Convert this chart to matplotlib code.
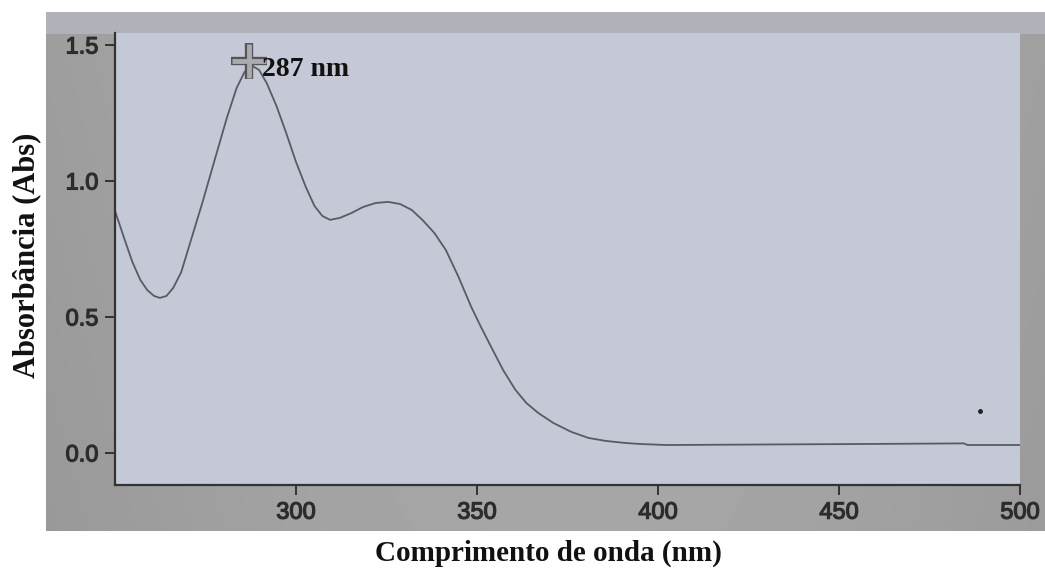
import matplotlib
matplotlib.use("Agg")
import matplotlib.pyplot as plt
from matplotlib.patches import Rectangle
import matplotlib.patheffects as pe
import numpy as np

# Spectrum
wavelength_nm = [250.0, 252.7, 254.8, 257.0, 258.9, 260.8, 262.4, 264.2, 266.1, 268.3,
                 271.0, 274.2, 277.7, 280.9, 283.6, 285.8, 287.6, 289.8, 291.9, 294.6,
                 297.3, 300.0, 302.7, 305.1, 307.3, 309.4, 312.1, 315.3, 318.5, 322.0,
                 325.5, 328.8, 332.0, 334.9, 338.2, 341.4, 344.9, 348.4, 351.1, 353.9,
                 357.2, 360.6, 363.6, 366.9, 371.1, 376.1, 380.8, 385.6, 390.6, 394.7,
                 402.3, 430.0, 460.0, 484.5, 485.5, 500.0]
absorbance = [0.890, 0.783, 0.702, 0.636, 0.599, 0.577, 0.570, 0.577, 0.607, 0.665,
              0.783, 0.923, 1.085, 1.232, 1.342, 1.401, 1.426, 1.408, 1.360, 1.276,
              1.176, 1.070, 0.978, 0.908, 0.871, 0.857, 0.864, 0.882, 0.904, 0.919,
              0.923, 0.915, 0.893, 0.857, 0.809, 0.746, 0.647, 0.537, 0.463, 0.390,
              0.305, 0.232, 0.184, 0.147, 0.110, 0.077, 0.055, 0.044, 0.037, 0.033,
              0.029, 0.031, 0.033, 0.035, 0.029, 0.029]

peak_nm = 287
peak_abs = 1.44
peak_label = "287 nm"

dust_nm = [489]
dust_abs = [0.154]

x_ticks = [300, 350, 400, 450, 500]
y_ticks = [0.0, 0.5, 1.0, 1.5]
x_label = "Comprimento de onda (nm)"
y_label = "Absorbância (Abs)"

W, H = 1045, 572
fig = plt.figure(figsize=(W / 100, H / 100), dpi=100)
fig.patch.set_facecolor("white")

# photo background (grey surround)
bg = fig.add_axes([0, 0, 1, 1], zorder=0)
bg.set_xlim(0, W)
bg.set_ylim(H, 0)
bg.axis("off")
gx = np.linspace(0, 1, 200)
gy = np.linspace(0, 1, 120)
GX, GY = np.meshgrid(gx, gy)
grad = 0.62 + 0.05 * np.sin(GX * 3.0) - 0.02 * GY
bg.imshow(grad, cmap="gray", vmin=0, vmax=1, extent=[46, W, 531, 12],
          aspect="auto", interpolation="bilinear")
bg.add_patch(Rectangle((46, 12), W - 46, 22, color="#b0b2b9", lw=0))

ax = fig.add_axes([115 / W, 1 - 485 / H, (1020 - 115) / W, (485 - 33) / H], zorder=1)
ax.set_facecolor("#c5c9d7")
ax.plot(wavelength_nm, absorbance, color="#595b61", lw=1.3, solid_joinstyle="round")
ax.plot(dust_nm, dust_abs, "o", color="#222222", ms=2.5)

# peak marker
ax.plot([peak_nm], [peak_abs], marker="+", ms=26, mew=6, color="#555555")
ax.plot([peak_nm], [peak_abs], marker="+", ms=24, mew=3.5, color="#a9abb0")
ax.annotate(peak_label, (peak_nm, peak_abs), xytext=(13, -8),
            textcoords="offset pixels", fontsize=20, fontweight="bold",
            family="Liberation Serif", color="#111111", va="center", ha="left")

ax.set_xlim(250, 500)
ax.set_ylim(-0.118, 1.544)
ax.set_xticks(x_ticks)
ax.set_yticks(y_ticks)
ax.set_xticklabels([str(t) for t in x_ticks])
ax.set_yticklabels([f"{t:.1f}" for t in y_ticks])
for s in ["top", "right"]:
    ax.spines[s].set_visible(False)
for s in ["left", "bottom"]:
    ax.spines[s].set_color("#333333")
    ax.spines[s].set_linewidth(1.6)
ax.tick_params(axis="both", direction="out", length=7, width=1.4, color="#333333",
               labelsize=17, labelcolor="#2c2c2c", pad=5)
for lab in ax.get_xticklabels() + ax.get_yticklabels():
    lab.set_family("Liberation Sans")
    lab.set_path_effects([pe.withStroke(linewidth=0.9, foreground="#2c2c2c")])

fig.text(548 / W, 1 - 553 / H, x_label, ha="center", va="center", fontsize=21,
         fontweight="bold", family="Liberation Serif", color="#111111")
fig.text(27 / W, 1 - 255 / H, y_label, ha="center", va="center", fontsize=22,
         fontweight="bold", family="Liberation Serif", color="#111111", rotation=90)

fig.savefig("out.png", dpi=100)
